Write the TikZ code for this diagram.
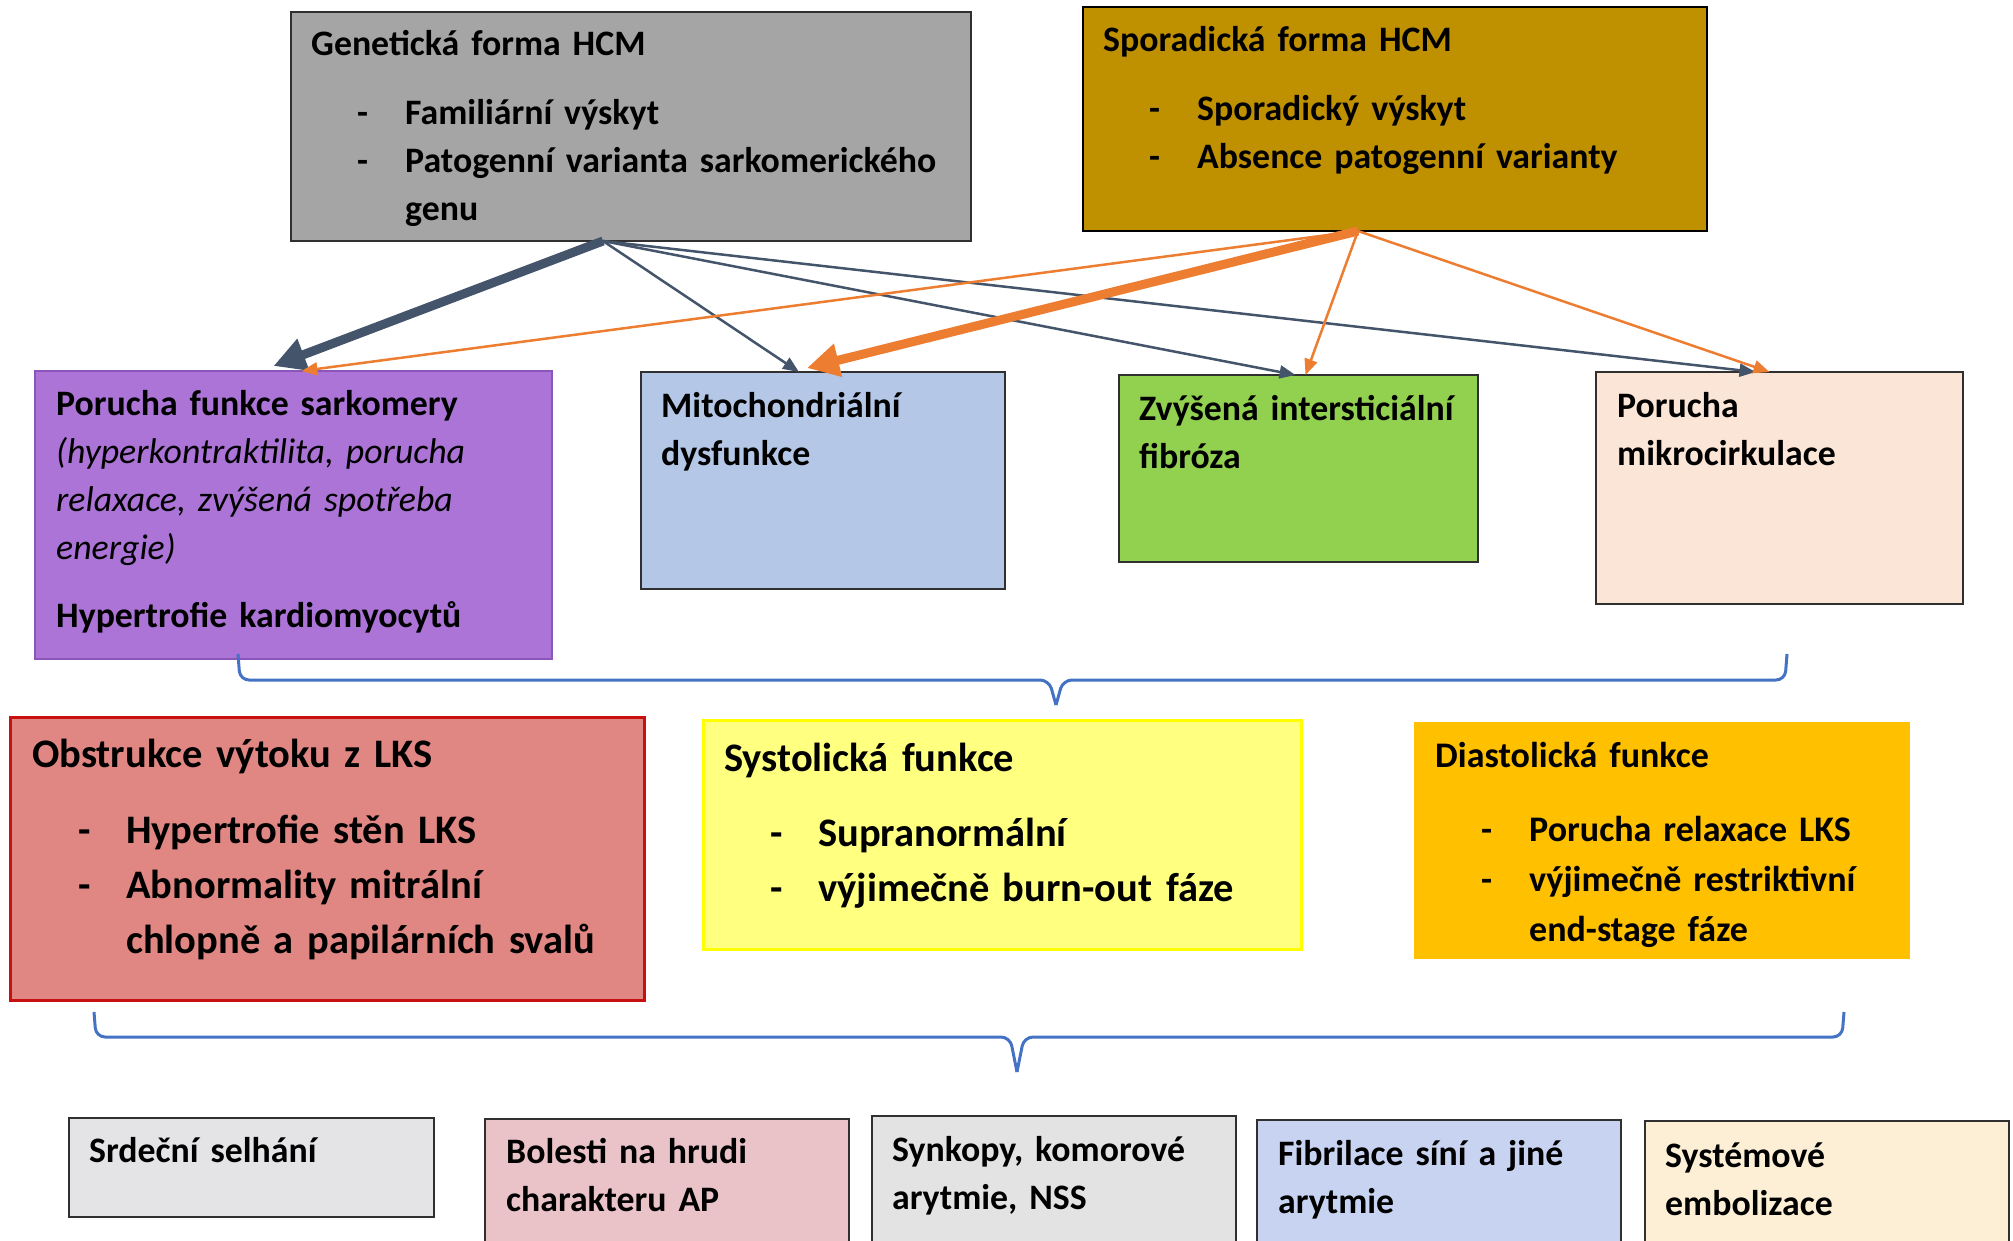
\documentclass[tikz,border=0pt]{standalone}
\usepackage{fontspec}
\setmainfont{Carlito}
\usetikzlibrary{arrows.meta}

\definecolor{slate}{HTML}{44546A}
\definecolor{orng}{HTML}{ED7D31}
\definecolor{bracecol}{HTML}{4472C4}
\definecolor{boxline}{HTML}{303030}

\newcommand{\dashitem}[1]{\makebox[94pt][l]{\hspace*{46pt}-}#1}
\newcommand{\contline}[1]{\hspace*{94pt}#1}

\begin{document}
\begin{tikzpicture}[x=1pt,y=-1pt,
  box/.style={draw=boxline, line width=1.5pt, anchor=north west, inner sep=0pt, outer sep=0pt},
  txt/.style={anchor=base west, inner sep=0pt, align=left, text width=640pt, font=\bfseries\fontsize{35.8}{48}\selectfont},
  big/.style={font=\bfseries\fontsize{40.5}{55}\selectfont},
  mid/.style={font=\bfseries\fontsize{36}{50}\selectfont},
  gline/.style={-{Triangle[length=16pt,width=13pt]}, slate, line width=2.5pt},
  gfat/.style={-{Triangle[length=32pt,width=32pt]}, slate, line width=9pt},
  oline/.style={-{Triangle[length=16pt,width=13pt]}, orng, line width=2.5pt},
  ofat/.style={-{Triangle[length=32pt,width=32pt]}, orng, line width=9pt},
  curly/.style={bracecol, line width=3pt, rounded corners=9pt}]
\useasboundingbox (0,0) rectangle (2013,1240);
\clip (0,0) rectangle (2013,1240);

\node[box, fill={rgb,255:red,165;green,165;blue,165}, minimum width=680pt, minimum height=229pt] (gen) at (291,12) {};
\node[box, fill={rgb,255:red,191;green,144;blue,0}, draw=black, minimum width=624pt, minimum height=224pt] (spor) at (1083,7) {};
\node[box, fill={rgb,255:red,171;green,116;blue,214}, draw={rgb,255:red,140;green,85;blue,185}, minimum width=517pt, minimum height=288pt] (sark) at (35,371) {};
\node[box, fill={rgb,255:red,180;green,199;blue,231}, minimum width=364pt, minimum height=217pt] (mito) at (641,372) {};
\node[box, fill={rgb,255:red,146;green,208;blue,80}, minimum width=359pt, minimum height=187pt] (fib) at (1119,375) {};
\node[box, fill={rgb,255:red,251;green,229;blue,214}, minimum width=367pt, minimum height=232pt] (mikro) at (1596,372) {};
\node[box, fill={rgb,255:red,224;green,134;blue,131}, draw={rgb,255:red,200;green,16;blue,16}, line width=3pt, minimum width=634pt, minimum height=283pt] (obst) at (10,717) {};
\node[box, fill={rgb,255:red,255;green,255;blue,128}, draw={rgb,255:red,255;green,255;blue,0}, line width=3pt, minimum width=598pt, minimum height=229pt] (sys) at (703,720) {};
\node[box, fill={rgb,255:red,255;green,192;blue,0}, draw=none, minimum width=496pt, minimum height=237pt] (dia) at (1414,722) {};
\node[box, fill={rgb,255:red,228;green,228;blue,230}, minimum width=365pt, minimum height=99pt] (ss) at (69,1118) {};
\node[box, fill={rgb,255:red,233;green,195;blue,200}, minimum width=364pt, minimum height=160pt] (ap) at (485,1119) {};
\node[box, fill={rgb,255:red,227;green,227;blue,227}, minimum width=364pt, minimum height=160pt] (syn) at (872,1116) {};
\node[box, fill={rgb,255:red,200;green,211;blue,242}, minimum width=364pt, minimum height=160pt] (af) at (1257,1120) {};
\node[box, fill={rgb,255:red,252;green,239;blue,214}, minimum width=364pt, minimum height=160pt] (emb) at (1645,1121) {};

\node[txt] (gent) at ([xshift=20pt,yshift=-43pt]gen.north west) {Genetická forma HCM\\[21pt] \dashitem{Familiární výskyt}\\ \dashitem{Patogenní varianta sarkomerického}\\ \contline{genu}};
\node[txt] (sport) at ([xshift=20pt,yshift=-44pt]spor.north west) {Sporadická forma HCM\\[21pt] \dashitem{Sporadický výskyt}\\ \dashitem{Absence patogenní varianty}};
\node[txt] (sarkt) at ([xshift=21pt,yshift=-44pt]sark.north west) {Porucha funkce sarkomery\\ {\mdseries\itshape (hyperkontraktilita, porucha}\\ {\mdseries\itshape relaxace, zvýšená spotřeba}\\ {\mdseries\itshape energie)}\\[20pt] Hypertrofie kardiomyocytů};
\node[txt] (mitot) at ([xshift=20pt,yshift=-45pt]mito.north west) {Mitochondriální\\ dysfunkce};
\node[txt] (fibt) at ([xshift=20pt,yshift=-45pt]fib.north west) {Zvýšená intersticiální\\ fibróza};
\node[txt] (mikrot) at ([xshift=21pt,yshift=-45pt]mikro.north west) {Porucha\\ mikrocirkulace};
\node[txt, big] (obstt) at ([xshift=22pt,yshift=-50pt]obst.north west) {Obstrukce výtoku z LKS\\[21pt] \dashitem{Hypertrofie stěn LKS}\\ \dashitem{Abnormality mitrální}\\ \contline{chlopně a papilárních svalů}};
\node[txt, big] (syst) at ([xshift=21pt,yshift=-51pt]sys.north west) {Systolická funkce\\[20pt] \dashitem{Supranormální}\\ \dashitem{výjimečně burn-out fáze}};
\node[txt, mid] (diat) at ([xshift=21pt,yshift=-45pt]dia.north west) {Diastolická funkce\\[24pt] \dashitem{Porucha relaxace LKS}\\ \dashitem{výjimečně restriktivní}\\ \contline{end-stage fáze}};
\node[txt] (sst) at ([xshift=20pt,yshift=-44pt]ss.north west) {Srdeční selhání};
\node[txt] (apt) at ([xshift=21pt,yshift=-44pt]ap.north west) {Bolesti na hrudi\\ charakteru AP};
\node[txt] (synt) at ([xshift=20pt,yshift=-45pt]syn.north west) {Synkopy, komorové\\ arytmie, NSS};
\node[txt] (aft) at ([xshift=21pt,yshift=-45pt]af.north west) {Fibrilace síní a jiné\\ arytmie};
\node[txt] (embt) at ([xshift=20pt,yshift=-46pt]emb.north west) {Systémové\\ embolizace};

\coordinate (g0) at ([xshift=-28pt]gen.south);
\coordinate (s0) at ([xshift=-37pt]spor.south);

\draw[gfat] (g0) -- ([xshift=-20pt,yshift=5pt]sark.north);
\draw[gline] (g0) -- ([xshift=-24pt]mito.north);
\draw[gline] (g0) -- ([xshift=-3pt]fib.north);
\draw[gline] (g0) -- ([xshift=-24pt]mikro.north);
\draw[oline] (s0) -- ([xshift=8pt]sark.north);
\draw[ofat] (s0) -- ([xshift=-16pt,yshift=4pt]mito.north);
\draw[oline] (s0) -- ([xshift=7pt]fib.north);
\draw[oline] (s0) -- ([xshift=-10pt]mikro.north);

\coordinate (b1) at (1056,705);
\coordinate (b2) at (1017,1072);
\draw[curly] (238,654) -- (240,680) -- (1049,680) -- (b1);
\draw[curly] (1787,654) -- (1785,680) -- (1063,680) -- (b1);
\draw[curly] (94,1012) -- (96,1037) -- (1010,1037) -- (b2);
\draw[curly] (1844,1012) -- (1842,1037) -- (1024,1037) -- (b2);
\end{tikzpicture}
\end{document}
